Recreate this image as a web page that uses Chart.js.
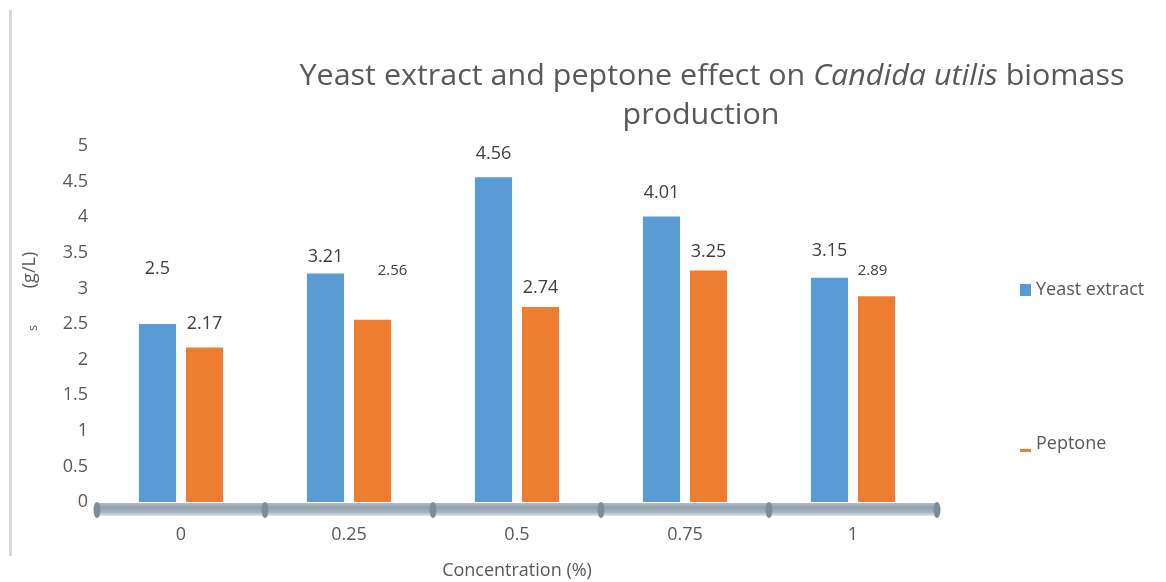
<!DOCTYPE html>
<html>
<head>
<meta charset="utf-8">
<script src="https://cdn.jsdelivr.net/npm/chart.js@4.4.1/dist/chart.umd.min.js"></script>
<style>
  html, body { margin: 0; padding: 0; background: #fff; }
  #wrap { width: 1166px; height: 582px; position: relative; }
</style>
</head>
<body>
<div id="wrap"><canvas id="chart"></canvas></div>
<script>
// data
const concentrations = ['0', '0.25', '0.5', '0.75', '1']
const yeastExtract = [2.5, 3.21, 4.56, 4.01, 3.15]
const peptone = [2.17, 2.56, 2.74, 3.25, 2.89]
const yTicks = [0, 0.5, 1, 1.5, 2, 2.5, 3, 3.5, 4, 4.5, 5]

const FONT = '"Open Sans", "Noto Sans", sans-serif'
const TEXT = '#595959'
const BLUE = '#5b9bd5'
const ORANGE = '#ed7d31'

// label placement quirks of the original (style only)
const labelStyle = [
  { lift: [55, 17, 23, 24, 27], dx: [0, 0, 0, 0, 0], size: [18, 18, 18, 18, 18] },
  { lift: [24, 49, 19, 19, 25], dx: [0, 20, 0, 0, -4], size: [18, 15, 18, 18, 15] }
]

const decorations = {
  id: 'decorations',
  afterDatasetsDraw(chart) {
    const { ctx, chartArea, scales } = chart
    const y0 = scales.y.getPixelForValue(0)

    // value labels
    chart.data.datasets.forEach((ds, di) => {
      const meta = chart.getDatasetMeta(di)
      meta.data.forEach((bar, i) => {
        const st = labelStyle[di]
        ctx.save()
        ctx.font = st.size[i] + 'px ' + FONT
        ctx.fillStyle = '#404040'
        ctx.textAlign = 'center'
        ctx.textBaseline = 'middle'
        ctx.fillText(String(ds.data[i]), bar.x + st.dx[i], bar.y - st.lift[i])
        ctx.restore()
      })
    })

    // chunky grey axis bar
    ctx.save()
    const left = chartArea.left, right = chartArea.right
    const g = ctx.createLinearGradient(0, y0, 0, y0 + 15)
    g.addColorStop(0, '#b9c3cc')
    g.addColorStop(0.35, '#93a2b0')
    g.addColorStop(0.7, '#a7b3be')
    g.addColorStop(1, 'rgba(220,225,230,0.6)')
    ctx.fillStyle = g
    ctx.fillRect(left, y0 + 1, right - left, 13)
    const step = (right - left) / concentrations.length
    ctx.fillStyle = '#7d8c9b'
    for (let k = 0; k <= concentrations.length; k++) {
      const px = left + step * k
      ctx.beginPath()
      ctx.ellipse(px, y0 + 8, 3.5, 8, 0, 0, Math.PI * 2)
      ctx.fill()
    }
    ctx.restore()
  },
  afterDraw(chart) {
    const { ctx } = chart

    // faint frame line on the left
    ctx.save()
    ctx.fillStyle = '#d9d9d9'
    ctx.fillRect(9, 10, 3, 546)
    ctx.restore()

    // title with italic species name
    const parts = [
      { t: 'Yeast extract and peptone effect on ', it: false },
      { t: 'Candida utilis', it: true },
      { t: ' biomass', it: false }
    ]
    ctx.save()
    ctx.fillStyle = TEXT
    ctx.textBaseline = 'alphabetic'
    const size = 29
    let total = 0
    parts.forEach(p => {
      ctx.font = (p.it ? 'italic ' : '') + size + 'px ' + FONT
      p.w = ctx.measureText(p.t).width
      total += p.w
    })
    const sx = 825 / total
    let cx = 712 - 825 / 2
    parts.forEach(p => {
      ctx.font = (p.it ? 'italic ' : '') + size + 'px ' + FONT
      ctx.save()
      ctx.translate(cx, 85)
      ctx.scale(sx, 1)
      ctx.fillText(p.t, 0, 0)
      ctx.restore()
      cx += p.w * sx
    })
    ctx.font = size + 'px ' + FONT
    ctx.textAlign = 'center'
    ctx.save()
    ctx.translate(701, 124)
    ctx.scale(sx, 1)
    ctx.fillText('production', 0, 0)
    ctx.restore()
    ctx.restore()

    // y axis title (cut off in the original)
    ctx.save()
    ctx.fillStyle = TEXT
    ctx.textAlign = 'center'
    ctx.textBaseline = 'middle'
    ctx.translate(30, 270)
    ctx.rotate(-Math.PI / 2)
    ctx.font = '18px ' + FONT
    ctx.fillText('(g/L)', 0, 0)
    ctx.font = '13px ' + FONT
    ctx.fillText('s', -58, 3)
    ctx.restore()

    // legend
    ctx.save()
    ctx.font = '18px ' + FONT
    ctx.fillStyle = TEXT
    ctx.textBaseline = 'middle'
    ctx.fillText(chart.data.datasets[0].label, 1036, 290)
    ctx.fillText(chart.data.datasets[1].label, 1036, 444)
    ctx.fillStyle = BLUE
    ctx.fillRect(1020, 284, 11, 12)
    ctx.fillStyle = ORANGE
    ctx.fillRect(1020, 449, 11, 3)
    ctx.restore()
  }
}

new Chart(document.getElementById('chart'), {
  type: 'bar',
  data: {
    labels: concentrations,
    datasets: [
      { label: 'Yeast extract', data: yeastExtract, backgroundColor: BLUE },
      { label: 'Peptone', data: peptone, backgroundColor: ORANGE }
    ]
  },
  options: {
    responsive: true,
    maintainAspectRatio: false,
    animation: false,
    categoryPercentage: 0.56,
    barPercentage: 0.79,
    layout: { padding: { left: 0, right: 229, top: 146, bottom: 0 } },
    plugins: {
      legend: { display: false },
      title: { display: false },
      tooltip: { enabled: false }
    },
    scales: {
      x: {
        grid: { display: false, drawTicks: false },
        border: { display: false },
        ticks: { color: TEXT, font: { family: FONT, size: 18 }, padding: 22 },
        title: {
          display: true,
          text: 'Concentration (%)',
          color: TEXT,
          font: { family: FONT, size: 18 },
          padding: 0
        },
        afterFit(scale) { scale.height = 80 }
      },
      y: {
        min: 0,
        max: 5,
        afterBuildTicks(scale) { scale.ticks = yTicks.map(v => ({ value: v })) },
        grid: { display: false, drawTicks: false },
        border: { display: false },
        ticks: {
          color: TEXT,
          font: { family: FONT, size: 18 },
          padding: 9,
          callback: v => String(v)
        },
        afterFit(scale) { scale.width = 97 }
      }
    }
  },
  plugins: [decorations]
})
</script>
</body>
</html>
